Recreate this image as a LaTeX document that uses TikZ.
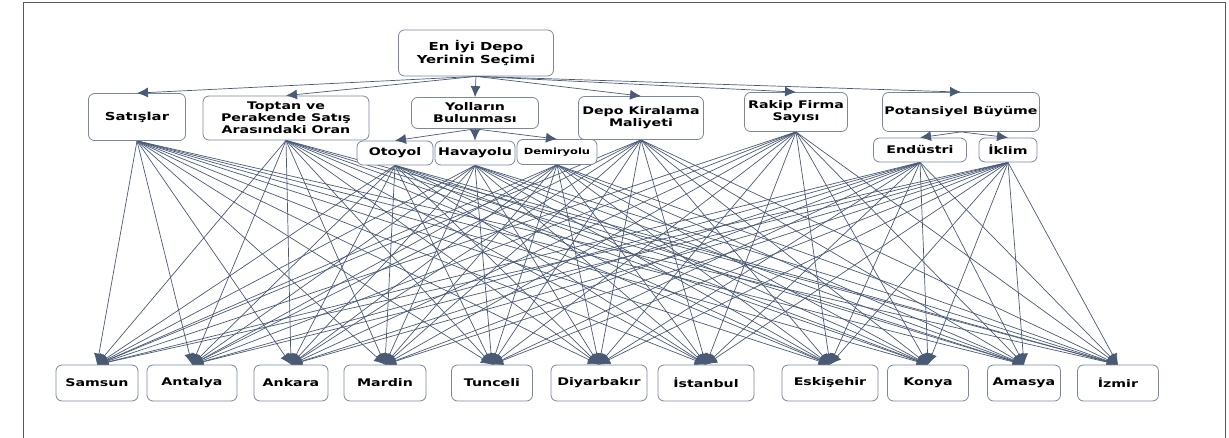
\documentclass[tikz,border=0pt]{standalone}
\usepackage{fontspec}
\newfontfamily\boxfont[FakeStretch=1.35]{DejaVu Sans Bold}
\usetikzlibrary{arrows.meta,backgrounds}
\definecolor{linkblue}{HTML}{4A5A75}
\definecolor{edgegray}{HTML}{7A879E}

\begin{document}
\begin{tikzpicture}[x=1pt,y=-1pt,
  box/.style={draw=edgegray, line width=0.8pt, rounded corners=6pt, fill=white,
    align=center, inner sep=0pt, font=\boxfont\fontsize{10.5}{12}\selectfont},
  link/.style={linkblue, line width=0.7pt, -{Latex[length=11pt,width=10pt]}}]
\useasboundingbox (0,0) rectangle (1229,438);
% Frame of the figure (open at the bottom)
\draw[gray!70!black, line width=1pt] (23,438) -- (23,3) -- (1225,3) -- (1225,438);
% Goal
\node[box, minimum width=155pt, minimum height=46pt, font=\boxfont\fontsize{11}{13}\selectfont] (goal) at (476,53) {En İyi Depo\\Yerinin Seçimi};
% Criteria
\node[box, minimum width=97pt, minimum height=47pt, font=\boxfont\fontsize{11}{13}\selectfont] (sat) at (137,117) {Satışlar};
\node[box, minimum width=166pt, minimum height=44pt] (top) at (286,118) {Toptan ve\\Perakende Satış\\Arasındaki Oran};
\node[box, minimum width=127pt, minimum height=31pt] (yol) at (475,113) {Yolların\\Bulunması};
\node[box, minimum width=125pt, minimum height=43pt] (dep) at (641,118) {Depo Kiralama\\Maliyeti};
\node[box, minimum width=103pt, minimum height=39pt] (rak) at (796,112) {Rakip Firma\\Sayısı};
\node[box, minimum width=157pt, minimum height=39pt] (pot) at (961,112) {Potansiyel Büyüme};
% Sub-criteria
\node[box, minimum width=76pt, minimum height=24pt] (oto) at (395,153) {Otoyol};
\node[box, minimum width=80pt, minimum height=24pt] (hav) at (475,153) {Havayolu};
\node[box, minimum width=80pt, minimum height=25pt, font=\boxfont\fontsize{8.5}{10}\selectfont] (dem) at (557,152) {Demiryolu};
\node[box, minimum width=93pt, minimum height=24pt] (end) at (920,150) {Endüstri};
\node[box, minimum width=58pt, minimum height=24pt] (ikl) at (1008,150) {İklim};
% Alternatives
\foreach \n/\x/\w/\t in {sam/97/82/Samsun, ant/192/90/Antalya, ank/291/74/Ankara,
    mar/385/82/Mardin, tun/492/81/Tunceli, diy/599/96/Diyarbakır, ist/706/96/İstanbul,
    esk/830/96/Eskişehir, kon/928/81/Konya, ama/1024/73/Amasya, izm/1118/81/İzmir}
  \node[box, minimum width=\w pt, minimum height=36pt] (\n) at (\x,383) {\t};
% Goal to criteria, criteria to sub-criteria
\foreach \c in {sat,top,yol,dep,rak,pot}
  \draw[link] (goal.south) -- (\c.north);
\foreach \c in {oto,hav,dem}
  \draw[link] (yol.south) -- (\c.north);
\foreach \c in {end,ikl}
  \draw[link] (pot.south) -- (\c.north);
% Every criterion to every alternative
\begin{scope}[on background layer]
\foreach \s in {sat,top,oto,hav,dem,dep,rak,end,ikl}
  \foreach \t in {sam,ant,ank,mar,tun,diy,ist,esk,kon,ama,izm}
    \draw[link] (\s.south) -- (\t.north);
\end{scope}
\end{tikzpicture}
\end{document}
